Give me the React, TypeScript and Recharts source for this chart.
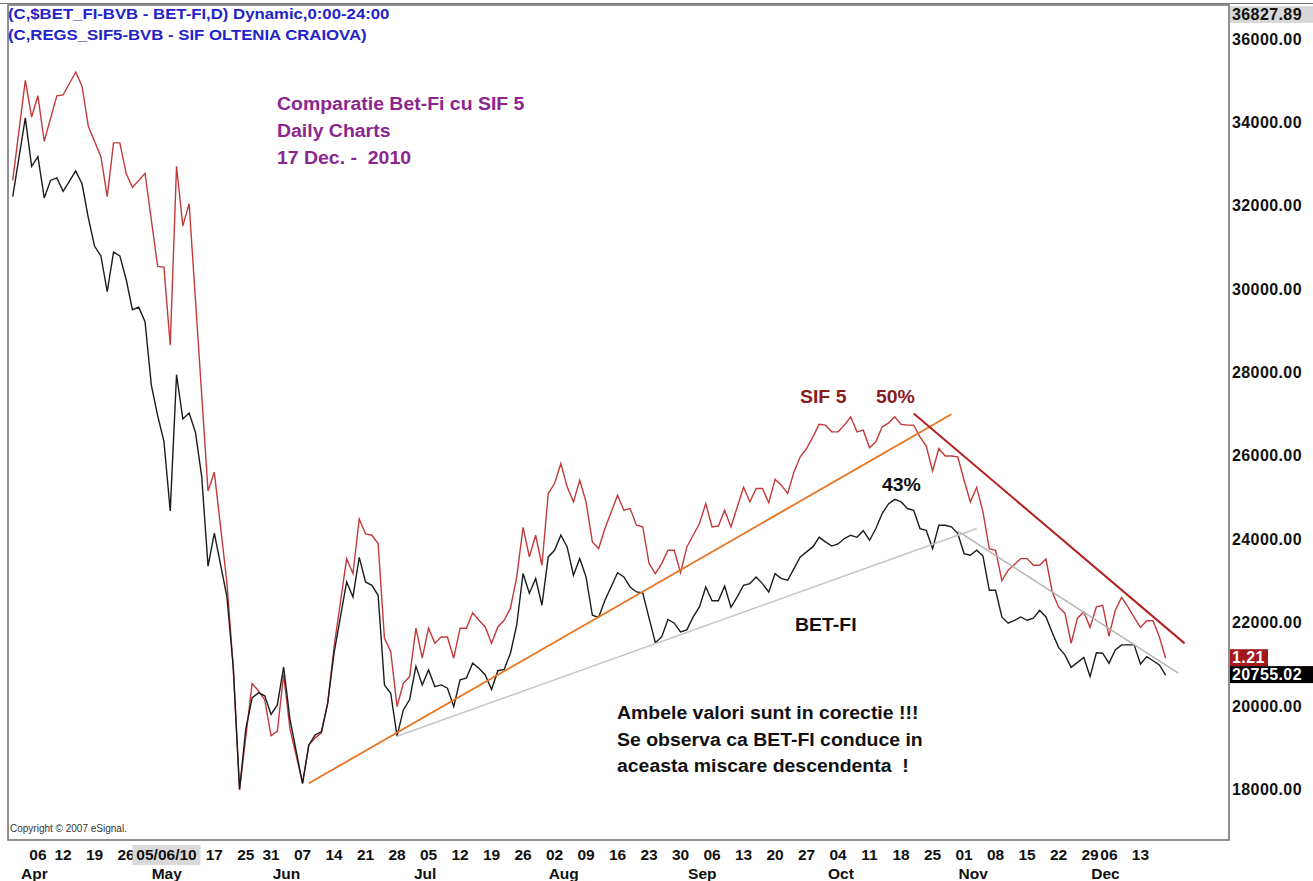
import React from "react";
import { LineChart, Line, XAxis, YAxis, ReferenceLine, ReferenceArea } from "recharts";

const FONT = '"Liberation Sans", Arial, Helvetica, sans-serif';

// x = trading-day index, 0 = 30 Mar 2010, 183 = 17 Dec 2010
// (the 03 May and 10 May labels sit under the cursor box and are not shown)
const weekTickDays = [4, 8, 13, 18, 32, 37, 41, 46, 51, 56, 61, 66, 71, 76, 81, 86, 91, 96, 101, 106, 111, 116, 121, 126, 131, 136, 141, 146, 151, 156, 161, 166, 171, 174, 179];
const weekTickLabels = ["06", "12", "19", "26", "17", "25", "31", "07", "14", "21", "28", "05", "12", "19", "26", "02", "09", "16", "23", "30", "06", "13", "20", "27", "04", "11", "18", "25", "01", "08", "15", "22", "29", "06", "13"];
const monthStartDays = [2, 23, 42, 64, 86, 108, 130, 151, 172];
const monthLabels = ["Apr", "May", "Jun", "Jul", "Aug", "Sep", "Oct", "Nov", "Dec"];
const cursorDay = 26;
const cursorLabel = "05/06/10";

const priceTicks = [18000, 20000, 22000, 24000, 26000, 28000, 30000, 32000, 34000, 36000];
const scaleBottom = 16800;
const scaleTop = 36827.89;

// BET-FI close (black)
const betfiDays = [0, 2, 3, 4, 5, 6, 7, 8, 10, 11, 12, 13, 14, 15, 16, 17, 18, 19, 20, 21, 22, 23, 24, 25, 26, 27, 28, 29, 30, 31, 32, 34, 35, 36, 37, 38, 39, 40, 41, 42, 43, 44, 46, 47, 48, 49, 50, 51, 53, 54, 55, 56, 57, 58, 59, 60, 61, 62, 63, 64, 65, 66, 67, 68, 69, 70, 71, 72, 73, 74, 75, 76, 77, 78, 79, 80, 81, 82, 83, 84, 85, 86, 87, 88, 89, 90, 91, 92, 93, 94, 96, 97, 98, 99, 100, 101, 102, 103, 104, 105, 106, 107, 108, 109, 110, 111, 112, 113, 114, 115, 116, 117, 118, 119, 120, 121, 122, 123, 124, 125, 126, 127, 128, 129, 130, 131, 132, 133, 134, 135, 136, 137, 138, 139, 140, 141, 142, 143, 144, 145, 146, 147, 148, 149, 150, 151, 152, 153, 154, 155, 156, 157, 158, 159, 160, 161, 162, 163, 164, 165, 166, 167, 168, 170, 171, 172, 173, 174, 175, 176, 177, 178, 179, 180, 181, 182, 183];
const betfiValues = [32230, 34120, 32960, 33190, 32200, 32620, 32680, 32360, 32850, 32540, 31720, 31040, 30810, 29950, 30900, 30810, 30250, 29520, 29580, 29230, 27710, 26980, 26360, 24690, 27960, 26900, 27040, 26580, 25510, 23370, 24160, 22630, 20950, 18010, 19470, 20210, 20330, 20260, 19810, 20040, 20950, 19700, 18150, 19080, 19320, 19400, 20090, 21280, 22990, 22630, 23580, 22990, 22910, 22670, 20520, 20320, 19290, 19920, 20170, 20970, 20520, 20880, 20480, 20520, 20440, 20000, 20640, 20680, 21040, 20920, 20760, 20410, 20860, 20890, 21280, 21960, 23190, 22720, 23070, 22430, 23590, 23750, 24110, 23830, 23150, 23550, 23110, 22190, 22140, 22550, 23210, 23110, 22870, 22750, 22730, 22120, 21530, 21670, 22090, 22000, 21790, 21840, 22150, 22390, 22870, 22540, 22540, 22890, 22380, 22630, 22910, 22950, 23110, 22950, 22750, 23190, 23070, 23030, 23310, 23590, 23710, 23830, 24060, 23950, 23850, 23900, 24030, 24110, 24060, 24220, 23990, 24270, 24630, 24860, 24970, 24910, 24750, 24710, 24270, 24230, 23790, 24350, 24350, 24310, 24150, 23670, 23630, 23750, 23610, 22790, 22790, 22150, 22000, 22070, 22150, 22070, 22120, 22310, 22150, 21770, 21420, 21240, 20940, 21180, 20720, 21290, 21280, 21040, 21360, 21480, 21480, 21480, 21020, 21200, 21100, 21000, 20755.02];

// SIF 5 overlay (red), drawn on the BET-FI price scale
const sif5Days = [0, 2, 3, 4, 5, 7, 8, 10, 11, 12, 14, 15, 16, 17, 18, 19, 21, 23, 24, 25, 26, 27, 28, 31, 32, 34, 35, 36, 38, 39, 40, 41, 42, 43, 44, 46, 47, 48, 49, 50, 51, 53, 54, 55, 56, 57, 58, 59, 60, 61, 62, 63, 64, 65, 66, 67, 68, 69, 70, 71, 72, 73, 74, 75, 76, 77, 78, 79, 80, 81, 82, 83, 84, 85, 86, 87, 88, 89, 90, 91, 92, 93, 94, 96, 97, 98, 99, 100, 101, 102, 103, 104, 105, 106, 107, 109, 110, 111, 112, 113, 114, 115, 116, 117, 118, 119, 120, 121, 122, 123, 124, 125, 126, 127, 128, 129, 130, 131, 132, 133, 134, 135, 136, 137, 138, 139, 140, 141, 142, 143, 144, 145, 146, 147, 148, 149, 150, 151, 152, 153, 154, 155, 156, 157, 158, 160, 161, 162, 163, 164, 165, 166, 167, 168, 169, 170, 171, 172, 173, 174, 175, 176, 177, 178, 179, 180, 181, 182, 183];
const sif5Values = [32620, 35020, 34140, 34650, 33560, 34650, 34670, 35220, 34880, 33920, 33190, 32230, 33520, 33520, 32790, 32450, 32790, 30560, 30540, 28670, 32960, 31530, 32060, 25170, 25620, 22970, 20950, 18010, 20550, 20380, 20160, 19300, 19410, 20770, 19470, 18170, 19080, 19250, 19370, 20090, 21430, 23550, 23190, 24500, 24140, 24110, 23910, 21640, 21320, 20000, 20560, 20720, 21880, 21160, 21880, 21520, 21670, 21670, 21160, 21880, 21880, 22250, 22070, 21910, 21520, 21910, 22070, 22360, 23110, 24300, 23590, 24110, 23390, 25110, 25350, 25830, 25270, 24910, 25430, 24910, 23950, 23790, 24270, 25070, 24710, 24750, 24350, 24310, 23430, 23190, 23430, 23750, 23750, 23210, 23830, 24390, 24870, 24310, 24330, 24710, 24310, 24790, 25260, 24910, 25230, 25230, 24890, 25450, 25310, 25110, 25630, 25990, 26190, 26470, 26770, 26750, 26590, 26590, 26750, 26950, 26590, 26630, 26210, 26350, 26710, 26800, 26950, 26770, 26750, 26750, 26470, 26250, 25650, 26190, 26010, 26010, 25990, 25430, 24910, 25260, 24670, 23790, 23750, 23020, 23270, 23550, 23550, 23390, 23390, 23540, 22750, 22390, 22240, 21520, 22120, 22270, 21900, 22390, 22430, 21690, 22310, 22620, 22390, 22140, 21900, 22060, 22060, 21670, 21160];
const sif5LastPrice = "1.21";

// hand-drawn trend lines: [day, price] endpoints
const orangeTrend = [[47, 18160], [149, 27010]];
const grayTrendUp = [[61, 19290], [153, 24270]];
const grayTrendDown = [[150, 24210], [185, 20800]];
const redTrendDown = [[143, 27030], [186, 21516]];

const betfiData = betfiDays.map((d, i) => ({ d, v: betfiValues[i] }));
const sif5Data = sif5Days.map((d, i) => ({ d, v: sif5Values[i] }));
const xTicks = [...weekTickDays, ...monthStartDays.map((d) => d + 0.5), cursorDay];

const DateTick = (props: any) => {
  const { x, y, payload } = props;
  const v = payload.value;
  const style = { fontFamily: FONT, fontSize: 15.5, fontWeight: "bold" as const, fill: "#111" };
  if (v === cursorDay) {
    return (
      <g>
        <rect x={x - 44} y={y + 3} width={68} height={20} fill="#d9d9d9" />
        <text x={x - 10} y={y + 18} textAnchor="middle" {...style}>{cursorLabel}</text>
      </g>
    );
  }
  const wi = weekTickDays.indexOf(v);
  if (wi >= 0) {
    return <text x={x} y={y + 18} textAnchor="middle" {...style}>{weekTickLabels[wi]}</text>;
  }
  const mi = monthStartDays.indexOf(v - 0.5);
  if (mi >= 0) {
    return <text x={x + 6} y={y + 37} textAnchor="middle" {...style}>{monthLabels[mi]}</text>;
  }
  return null;
};

const PriceTick = (props: any) => {
  const { x, y, payload } = props;
  return (
    <text x={x} y={y + 5} textAnchor="start" fontFamily={FONT} fontSize={16} letterSpacing={0.4} fontWeight="bold" fill="#111">
      {payload.value.toFixed(2)}
    </text>
  );
};

const AxisBox = (props: any) => {
  const { viewBox, text, bg, color, w, below } = props;
  if (!viewBox) return null;
  const bx = viewBox.x + viewBox.width + 1;
  const by = below ? viewBox.y + 1 : viewBox.y - 9;
  return (
    <g>
      <rect x={bx} y={by} width={w} height={17} fill={bg} />
      <text x={bx + 2} y={by + 14} fontFamily={FONT} fontSize={16} letterSpacing={0.4} fontWeight="bold" fill={color}>{text}</text>
    </g>
  );
};

const notes = [
  { text: "(C,$BET_FI-BVB - BET-FI,D) Dynamic,0:00-24:00", left: 8, top: 5, size: 15.5, color: "#2323c8" },
  { text: "(C,REGS_SIF5-BVB - SIF OLTENIA CRAIOVA)", left: 8, top: 26, size: 15.5, color: "#2323c8" },
  { text: "Comparatie Bet-Fi cu SIF 5", left: 277, top: 94, size: 18, color: "#8c268e" },
  { text: "Daily Charts", left: 277, top: 121, size: 18, color: "#8c268e" },
  { text: "17 Dec. -  2010", left: 277, top: 148, size: 18, color: "#8c268e" },
  { text: "SIF 5", left: 800, top: 387, size: 18, color: "#8b1c1c" },
  { text: "50%", left: 876, top: 387, size: 18, color: "#8b1c1c" },
  { text: "43%", left: 882, top: 475, size: 18, color: "#111" },
  { text: "BET-FI", left: 795, top: 615, size: 18, color: "#111" },
  { text: "Ambele valori sunt in corectie !!!", left: 617, top: 703, size: 18, color: "#111" },
  { text: "Se observa ca BET-FI conduce in", left: 617, top: 730, size: 18, color: "#111" },
  { text: "aceasta miscare descendenta  !", left: 617, top: 756, size: 18, color: "#111" },
];

const trend = (pts: number[][]) => [
  { x: pts[0][0], y: pts[0][1] },
  { x: pts[1][0], y: pts[1][1] },
];

export default function App() {
  return (
    <div style={{ position: "absolute", left: 0, top: 0, width: 1313, height: 881, background: "#fff", overflow: "hidden" }}>
      <div style={{ position: "absolute", left: 0, top: 3, width: 1313, height: 1, background: "#777" }} />
      <LineChart width={1313} height={881} margin={{ top: 5, right: 0, bottom: 0, left: 8 }}>
        <XAxis
          type="number"
          dataKey="d"
          domain={[-0.75, 193.05]}
          ticks={xTicks}
          interval={0}
          tick={<DateTick />}
          tickLine={false}
          tickSize={0}
          axisLine={false}
          height={41}
          allowDataOverflow
        />
        <YAxis
          orientation="right"
          domain={[scaleBottom, scaleTop]}
          ticks={priceTicks}
          interval={0}
          width={84}
          tickSize={0}
          tickMargin={3}
          tickLine={false}
          axisLine={false}
          tick={<PriceTick />}
          allowDataOverflow
        />
        <ReferenceArea
          x1={-0.75}
          x2={193.05}
          y1={scaleBottom}
          y2={scaleTop}
          fill="none"
          stroke="#6b6b6b"
          strokeWidth={1.5}
          ifOverflow="visible"
        />
        <Line data={sif5Data} dataKey="v" type="linear" stroke="#c23a3a" strokeWidth={1.4} dot={false} isAnimationActive={false} />
        <Line data={betfiData} dataKey="v" type="linear" stroke="#1c1c1c" strokeWidth={1.4} dot={false} isAnimationActive={false} />
        <ReferenceLine segment={trend(orangeTrend)} stroke="#e8731e" strokeWidth={1.8} ifOverflow="visible" />
        <ReferenceLine segment={trend(grayTrendUp)} stroke="#c4c4c4" strokeWidth={1.5} ifOverflow="visible" />
        <ReferenceLine segment={trend(grayTrendDown)} stroke="#b4b4b4" strokeWidth={1.5} ifOverflow="visible" />
        <ReferenceLine segment={trend(redTrendDown)} stroke="#b3201f" strokeWidth={2} ifOverflow="visible" />
        <ReferenceLine
          y={scaleTop}
          stroke="none"
          ifOverflow="visible"
          label={<AxisBox text={scaleTop.toFixed(2)} bg="#d8d8d8" color="#111" w={84} below />}
        />
        <ReferenceLine
          y={sif5Values[sif5Values.length - 1]}
          stroke="none"
          ifOverflow="visible"
          label={<AxisBox text={sif5LastPrice} bg="#a3181b" color="#fff" w={38} />}
        />
        <ReferenceLine
          y={betfiValues[betfiValues.length - 1]}
          stroke="none"
          ifOverflow="visible"
          label={<AxisBox text={betfiValues[betfiValues.length - 1].toFixed(2)} bg="#000" color="#fff" w={84} />}
        />
      </LineChart>
      {notes.map((n) => (
        <div
          key={n.text}
          style={{
            position: "absolute",
            left: n.left,
            top: n.top,
            fontFamily: FONT,
            fontSize: n.size,
            lineHeight: `${n.size + 2}px`,
            fontWeight: "bold",
            color: n.color,
            whiteSpace: "pre",
            pointerEvents: "none",
            transform: "scaleX(1.08)",
            transformOrigin: "left center",
          }}
        >
          {n.text}
        </div>
      ))}
      <div style={{ position: "absolute", left: 10, top: 823, fontFamily: FONT, fontSize: 10, color: "#333", whiteSpace: "pre" }}>
        Copyright © 2007 eSignal.
      </div>
    </div>
  );
}
